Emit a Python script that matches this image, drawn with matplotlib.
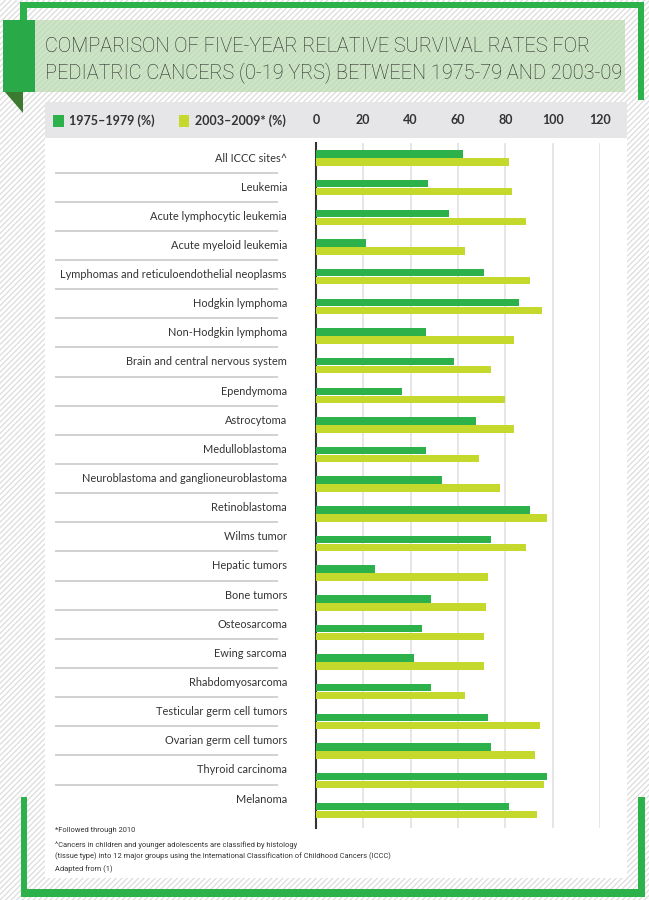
import matplotlib
matplotlib.use('Agg')
import matplotlib.pyplot as plt
from matplotlib.patches import Rectangle, Polygon
import numpy as np

categories = ["All ICCC sites^", "Leukemia", "Acute lymphocytic leukemia", "Acute myeloid leukemia",
              "Lymphomas and reticuloendothelial neoplasms", "Hodgkin lymphoma", "Non-Hodgkin lymphoma",
              "Brain and central nervous system", "Ependymoma", "Astrocytoma", "Medulloblastoma",
              "Neuroblastoma and ganglioneuroblastoma", "Retinoblastoma", "Wilms tumor", "Hepatic tumors",
              "Bone tumors", "Osteosarcoma", "Ewing sarcoma", "Rhabdomyosarcoma",
              "Testicular germ cell tumors", "Ovarian germ cell tumors", "Thyroid carcinoma", "Melanoma"]
rate_1975 = [62.2, 47.5, 56.2, 21.0, 71.1, 85.8, 46.3, 58.4, 36.5, 67.7, 46.3, 53.4, 90.4,
             73.8, 24.9, 48.4, 44.6, 41.4, 48.4, 72.8, 73.8, 97.5, 81.5]
rate_2003 = [81.5, 82.7, 88.7, 62.9, 90.3, 95.3, 83.7, 73.8, 79.8, 83.7, 68.9, 77.7, 97.5,
             88.7, 72.7, 72.0, 71.0, 71.0, 62.9, 94.5, 92.5, 96.3, 93.5]
series_labels = ["1975\u20131979 (%)", "2003\u20132009* (%)"]
x_ticks = [0, 20, 40, 60, 80, 100, 120]
title_lines = ["COMPARISON OF FIVE-YEAR RELATIVE SURVIVAL RATES FOR",
               "PEDIATRIC CANCERS (0-19 YRS) BETWEEN 1975-79 AND 2003-09"]
footnotes = ["*Followed through 2010",
             "^Cancers in children and younger adolescents are classified by histology",
             "(tissue type) into 12 major groups using the International Classification of Childhood Cancers (ICCC)",
             "Adapted from (1)"]

GREEN = '#2db14b'
LIME = '#c4d92b'
TEXT = '#333333'
NARROW = ['Liberation Sans Narrow', 'Roboto', 'DejaVu Sans']

W, H = 649, 900
fig = plt.figure(figsize=(W / 100, H / 100), dpi=100)


def box(x0, y0, x1, y1, **kw):
    # rectangle given in pixel coords, y measured from the top
    r = Rectangle((x0 / W, 1 - y1 / H), (x1 - x0) / W, (y1 - y0) / H, transform=fig.transFigure, **kw)
    fig.patches.append(r)
    return r


plt.rcParams['hatch.linewidth'] = 0.9
box(0, 0, W, H, facecolor='white', edgecolor='#dcdcdc', hatch='//////', linewidth=0, zorder=0)

# green frame pieces
for x0, y0, x1, y1 in [(20, 2, 644, 8), (20, 2, 27, 22), (638, 2, 644, 100),
                       (21, 797, 27, 897), (21, 889, 645, 897), (638, 797, 645, 897)]:
    box(x0, y0, x1, y1, facecolor=GREEN, linewidth=0, zorder=1)

# title box and tab
box(27, 20, 625, 92, facecolor='#cde4c6', edgecolor='#c2dcba', hatch='//////', linewidth=0, zorder=1)
box(3, 20, 35, 92, facecolor='#2aa948', linewidth=0, zorder=2)
fig.patches.append(Polygon([(5 / W, 1 - 92 / H), (23 / W, 1 - 92 / H), (23 / W, 1 - 113 / H)],
                           closed=True, transform=fig.transFigure, facecolor='#3b7a30', linewidth=0, zorder=2))

# header band and white panel
box(45, 102, 627, 138, facecolor='#e6e6e8', linewidth=0, zorder=1)
box(45, 138, 627, 878, facecolor='white', linewidth=0, zorder=1)

# title, fitted to width
renderer = fig.canvas.get_renderer()
t1 = fig.text(45 / W, 1 - 47 / H, title_lines[0], fontsize=18, color='#262626', family=NARROW,
              fontweight='light', va='center', ha='left', zorder=5)
t2 = fig.text(45 / W, 1 - 73 / H, title_lines[1], fontsize=18, color='#262626', family=NARROW,
              fontweight='light', va='center', ha='left', zorder=5)
w = t2.get_window_extent(renderer).width
size = 18 * 575 / w
t1.set_fontsize(size)
t2.set_fontsize(size)

# bar axes
top_px, bot_px = 143, 828
bar_first, bar_pitch = 158.1, 29.645
ax = fig.add_axes([316 / W, 1 - bot_px / H, 284 / W, (bot_px - top_px) / H])
ax.set_zorder(3)
ax.patch.set_alpha(0)
y = np.arange(len(categories))
bh = 7.5 / bar_pitch
off = 4.0 / bar_pitch
ax.barh(y - off, rate_1975, height=bh, color=GREEN, label=series_labels[0], zorder=3)
ax.barh(y + off, rate_2003, height=bh, color=LIME, label=series_labels[1], zorder=3)
ax.set_xlim(0, 120)
ax.set_ylim((bot_px - bar_first) / bar_pitch, -(bar_first - top_px) / bar_pitch)
ax.set_yticks([])
ax.xaxis.tick_top()
ax.set_xticks(x_ticks)
ax.set_xticklabels([str(v) for v in x_ticks], fontsize=9, fontweight='bold', color=TEXT, family='Lato')
ax.tick_params(axis='x', length=0, pad=12)
for v in x_ticks[1:]:
    ax.axvline(v, color='#e2e2e4', lw=1.2, zorder=1)
for s in ['top', 'right', 'bottom']:
    ax.spines[s].set_visible(False)
ax.spines['left'].set_color('#333333')
ax.spines['left'].set_linewidth(1.5)

leg = ax.legend(loc='center left', bbox_to_anchor=(53 / W, 1 - 121 / H), bbox_transform=fig.transFigure,
                ncol=2, frameon=False, handlelength=0.85, handleheight=1.1, handletextpad=0.45,
                columnspacing=1.9, borderaxespad=0, borderpad=0,
                prop={'family': 'Lato', 'weight': 'bold', 'size': 9})
for txt in leg.get_texts():
    txt.set_color(TEXT)

# category labels with separators
lab_first, lab_pitch = 158.0, 29.14
axl = fig.add_axes([55 / W, 1 - bot_px / H, 232 / W, (bot_px - top_px) / H])
axl.set_zorder(3)
axl.set_xlim(0, 1)
axl.set_ylim((bot_px - lab_first) / lab_pitch, -(lab_first - top_px) / lab_pitch)
axl.axis('off')
for i, name in enumerate(categories):
    axl.text(1.0, i, name, ha='right', va='center', fontsize=7.9, color=TEXT, family='Lato')
    if i < len(categories) - 1:
        axl.plot([0, 0.961], [i + 0.5, i + 0.5], color='#c9c9c9', lw=1.2, solid_capstyle='butt')

# footnotes
for txt, yy in zip(footnotes, [830, 845, 856, 869]):
    fig.text(55 / W, 1 - yy / H, txt, fontsize=5.4, color=TEXT, family=NARROW, va='center', ha='left',
             zorder=5)

fig.savefig('out.png', dpi=100)
